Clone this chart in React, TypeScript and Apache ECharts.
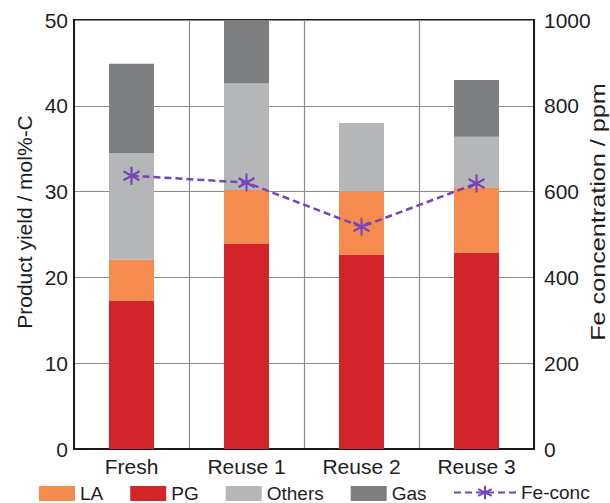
import React, { useEffect, useRef } from "react";
import * as echarts from "echarts";

const categories = ["Fresh", "Reuse 1", "Reuse 2", "Reuse 3"];
const pgValues = [17.3, 23.9, 22.6, 22.9];
const laValues = [4.8, 6.3, 7.4, 7.6];
const othersValues = [12.4, 12.4, 8.0, 5.9];
const gasValues = [10.4, 7.4, 0, 6.6];
const feConc = [637, 621, 518, 619];

const leftTicks = { min: 0, max: 50, interval: 10 };
const rightTicks = { min: 0, max: 1000, interval: 200 };

const FONT = "'Liberation Sans', Arial, Helvetica, sans-serif";
const TEXT = "#1e1e1e";
const PURPLE = "#7643b8";
const ASTERISK = "path://M10,0L10,20M1.5,5L18.5,15M1.5,15L18.5,5";

export default function App() {
  const ref = useRef<HTMLDivElement>(null);
  useEffect(() => {
    if (!ref.current) return;
    const chart = echarts.init(ref.current, undefined, { renderer: "svg" });
    chart.setOption({
      animation: false,
      backgroundColor: "#ffffff",
      textStyle: { fontFamily: FONT, color: TEXT },
      grid: {
        left: 74,
        right: 76,
        top: 20,
        bottom: 54,
        show: true,
        borderColor: "#1a1a1a",
        borderWidth: 2,
        containLabel: false,
      },
      legend: [
        {
          data: ["LA", "PG", "Others", "Gas"],
          left: 39,
          top: 484,
          padding: 0,
          itemWidth: 36,
          itemHeight: 15,
          itemGap: 27,
          icon: "rect",
          textStyle: { fontSize: 19, lineHeight: 19, color: TEXT, fontFamily: FONT },
        },
        {
          data: ["Fe-conc"],
          left: 453,
          top: 483,
          padding: 0,
          itemWidth: 62,
          itemHeight: 17,
          textStyle: { fontSize: 19, lineHeight: 19, color: TEXT, fontFamily: FONT },
        },
      ],
      xAxis: {
        type: "category",
        data: categories,
        axisLine: { show: true, lineStyle: { color: "#1a1a1a", width: 2 } },
        axisTick: { show: false },
        axisLabel: { fontSize: 21, color: TEXT, margin: 7, fontFamily: FONT },
        splitLine: { show: true, lineStyle: { color: "#8a8a8a", width: 1.2 } },
      },
      yAxis: [
        {
          type: "value",
          ...leftTicks,
          axisLine: { show: true, lineStyle: { color: "#1a1a1a", width: 2 } },
          axisTick: { show: false },
          axisLabel: { fontSize: 21, color: TEXT, margin: 6, fontFamily: FONT },
          splitLine: { show: true, lineStyle: { color: "#8a8a8a", width: 1.2 } },
        },
        {
          type: "value",
          ...rightTicks,
          position: "right",
          axisLine: { show: true, lineStyle: { color: "#1a1a1a", width: 2 } },
          axisTick: { show: false },
          axisLabel: {
            fontSize: 21,
            color: TEXT,
            margin: 10,
            fontFamily: FONT,
            formatter: (v: number) => String(v),
          },
          splitLine: { show: false },
        },
      ],
      graphic: [
        {
          type: "text",
          x: 24,
          y: 222,
          rotation: Math.PI / 2,
          style: {
            text: "Product yield / mol%-C",
            font: `21px ${FONT}`,
            fill: TEXT,
            textAlign: "center",
            textVerticalAlign: "middle",
          },
        },
        {
          type: "text",
          x: 598,
          y: 212,
          rotation: Math.PI / 2,
          scaleX: 1.2,
          style: {
            text: "Fe concentration / ppm",
            font: `21px ${FONT}`,
            fill: TEXT,
            textAlign: "center",
            textVerticalAlign: "middle",
          },
        },
      ],
      series: [
        {
          name: "PG",
          type: "bar",
          stack: "y",
          data: pgValues,
          barWidth: 45,
          itemStyle: { color: "#d42429" },
        },
        {
          name: "LA",
          type: "bar",
          stack: "y",
          data: laValues,
          barWidth: 45,
          itemStyle: { color: "#f58b4e" },
        },
        {
          name: "Others",
          type: "bar",
          stack: "y",
          data: othersValues,
          barWidth: 45,
          itemStyle: { color: "#b4b6b8" },
        },
        {
          name: "Gas",
          type: "bar",
          stack: "y",
          data: gasValues,
          barWidth: 45,
          itemStyle: { color: "#7d7e80" },
        },
        {
          name: "Fe-conc",
          type: "line",
          yAxisIndex: 1,
          data: feConc,
          symbol: ASTERISK,
          symbolSize: [16, 18],
          lineStyle: { color: PURPLE, width: 2.5, type: [7, 4] },
          itemStyle: { color: PURPLE, borderColor: PURPLE, borderWidth: 2.2 },
          z: 5,
        },
      ],
    });
    return () => chart.dispose();
  }, []);
  return (
    <div
      ref={ref}
      style={{ position: "fixed", left: 0, top: 0, width: 610, height: 503 }}
    />
  );
}
